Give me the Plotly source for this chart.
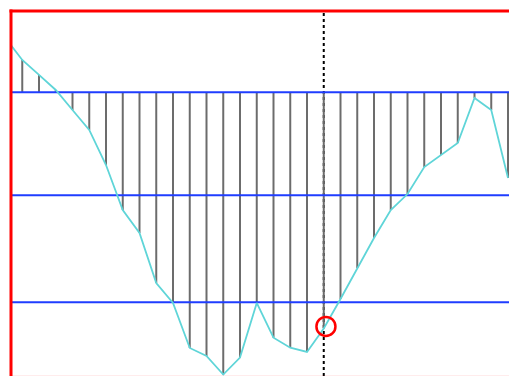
import plotly.graph_objects as go

# ---- data ----
x_index = list(range(31))
values = [0.517, 0.308, 0.165, 0.022, -0.169, -0.359, -0.693, -1.121, -1.340, -1.816,
          -2.006, -2.435, -2.511, -2.688, -2.527, -2.006, -2.337, -2.432, -2.473, -2.250,
          -1.969, -1.673, -1.388, -1.121, -0.969, -0.712, -0.597, -0.483, -0.054, -0.169,
          -0.816]
baseline = 0.0
grid_values = [0.0, -0.98, -2.0]
cursor_x = 19
highlight_x = [19.13]
highlight_y = [-2.23]

# ---- figure ----
fig = go.Figure()

# stems from baseline to each value
stem_x, stem_y = [], []
for xi, vi in zip(x_index, values):
    stem_x += [xi, xi, None]
    stem_y += [baseline, vi, None]
fig.add_trace(go.Scatter(x=stem_x, y=stem_y, mode="lines",
                         line=dict(color="#6c6c6c", width=2), hoverinfo="skip"))

# blue horizontal lines (over the stems)
for g in grid_values:
    fig.add_trace(go.Scatter(x=[-2, 32], y=[g, g], mode="lines",
                             line=dict(color="#1f3dff", width=2), hoverinfo="skip"))

# cyan data line
fig.add_trace(go.Scatter(x=x_index, y=values, mode="lines",
                         line=dict(color="#5fd5d8", width=1.8)))

# highlighted point
fig.add_trace(go.Scatter(x=highlight_x, y=highlight_y, mode="markers",
                         marker=dict(symbol="circle-open", size=19,
                                     color="red", line=dict(color="red", width=2.5))))

fig.update_layout(
    width=509, height=376, autosize=False,
    margin=dict(l=11, r=0, t=11, b=0, pad=0),
    paper_bgcolor="white", plot_bgcolor="white",
    showlegend=False,
    xaxis=dict(range=[0.328, 30.06], showgrid=False, zeroline=False,
               showticklabels=False, ticks="", showline=False, fixedrange=True),
    yaxis=dict(range=[-2.702, 0.774], showgrid=False, zeroline=False,
               showticklabels=False, ticks="", showline=False, fixedrange=True),
    shapes=[
        # dashed cursor line, under traces
        dict(type="line", xref="x", yref="paper", x0=cursor_x, x1=cursor_x, y0=0, y1=1,
             line=dict(color="black", width=2, dash="3px,3px"), layer="below"),
        # red frame: left and top
        dict(type="line", xref="paper", yref="paper", x0=0, x1=0, y0=-0.05, y1=1.004,
             line=dict(color="#ff0000", width=3), layer="above"),
        dict(type="line", xref="paper", yref="paper", x0=-0.003, x1=1.05, y0=1, y1=1,
             line=dict(color="#ff0000", width=3), layer="above"),
        # faint bottom edge
        dict(type="line", xref="paper", yref="paper", x0=0, x1=1.05, y0=0, y1=0,
             line=dict(color="rgba(255,0,0,0.15)", width=1), layer="above"),
    ],
)

fig.write_html("out.html",
               config={"displayModeBar": False},
               post_script="document.body.style.margin='0';document.body.style.overflow='hidden';")
